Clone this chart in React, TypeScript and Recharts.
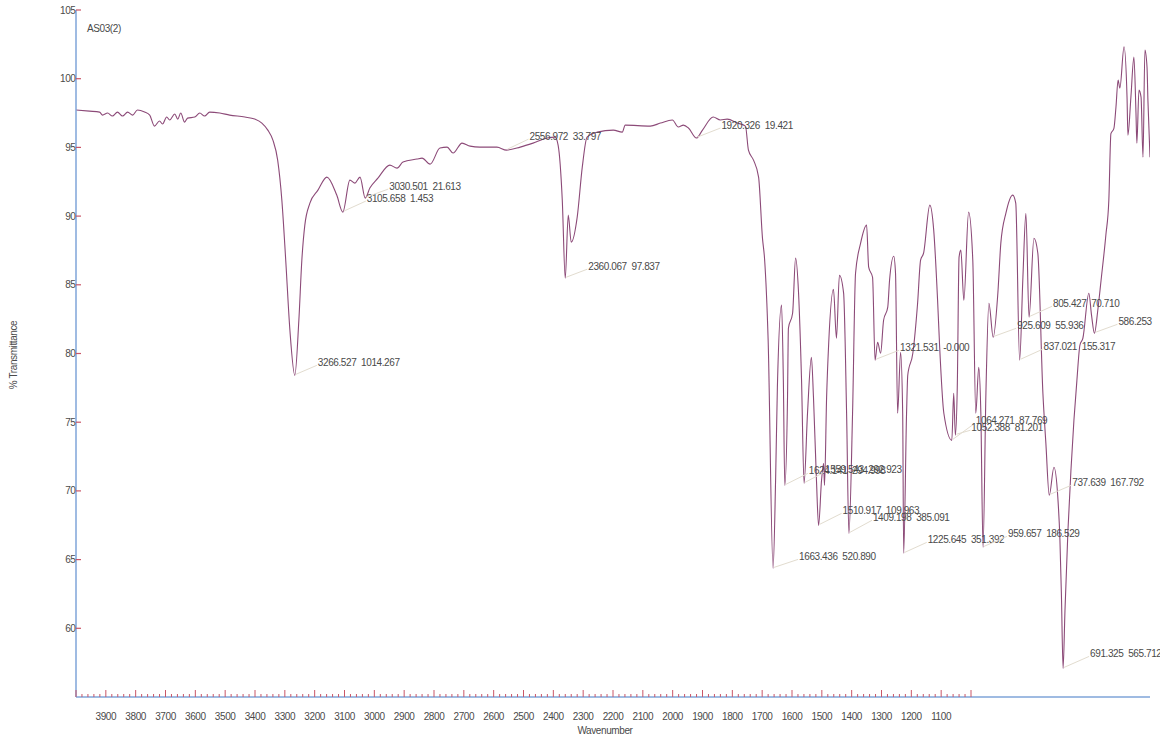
import React from 'react';
import { LineChart, Line, XAxis, YAxis, ReferenceDot } from 'recharts';

// IR spectrum of sample AS03(2): [wavenumber (cm-1), % transmittance]
const spectrum: [number, number][] = [
  [4000, 97.72], [3955, 97.64], [3921, 97.57], [3911, 97.35], [3894, 97.5], [3878, 97.28],
  [3861, 97.57], [3844, 97.28], [3827, 97.57], [3810, 97.35], [3794, 97.72], [3770, 97.57],
  [3753, 97.35], [3737, 96.55], [3720, 96.92], [3710, 96.7], [3696, 97.21], [3686, 96.99],
  [3669, 97.43], [3659, 97.06], [3649, 97.5], [3636, 96.84], [3626, 97.13], [3602, 97.21],
  [3585, 97.5], [3569, 97.28], [3552, 97.57], [3518, 97.5], [3485, 97.35], [3434, 97.21],
  [3401, 97.06], [3377, 96.77], [3357, 96.26], [3340, 95.53], [3324, 94.07], [3310, 91.16],
  [3297, 86.79], [3283, 81.69], [3266.527, 78.41], [3253, 82.42], [3243, 86.79], [3233, 89.34],
  [3216, 90.94], [3189, 91.89], [3159, 92.84], [3126, 91.53], [3105.658, 90.29], [3082, 92.62],
  [3065, 92.4], [3048, 92.84], [3030.501, 91.31], [3015, 92.04], [2988, 92.76], [2948, 93.71],
  [2924, 93.49], [2904, 93.93], [2857, 94.15], [2840, 94.22], [2813, 93.78], [2780, 94.95],
  [2756, 95.02], [2736, 94.59], [2706, 95.31], [2679, 95.09], [2646, 95.02], [2622, 95.02],
  [2589, 95.02], [2556.972, 94.8], [2511, 95.02], [2468, 95.31], [2421, 95.68], [2394, 95.75],
  [2384, 95.17], [2370, 91.16], [2360.067, 85.48], [2350, 90.07], [2340, 88.1], [2320, 89.92],
  [2303, 93.56], [2287, 95.75], [2253, 96.11], [2199, 96.26], [2169, 96.11], [2159, 96.62],
  [2075, 96.55], [2041, 96.77], [2001, 96.99], [1981, 96.48], [1964, 96.62], [1947, 96.41],
  [1920.326, 95.68], [1900, 96.26], [1864, 97.21], [1840, 96.99], [1817, 97.06], [1783, 96.77],
  [1756, 96.55], [1746, 94.8], [1729, 94.07], [1712, 92.84], [1699, 88.4], [1692, 86.9],
  [1680, 81.0], [1663.436, 64.36], [1655, 70.77], [1649, 77.54], [1635, 83.52], [1629, 78.05],
  [1624.141, 70.4], [1615, 76.81], [1612, 81.84], [1598, 82.93], [1588, 86.94], [1578, 84.39],
  [1568, 78.05], [1559.543, 70.55], [1548, 75.65], [1535, 79.73], [1528, 76.81], [1518, 70.77],
  [1510.917, 67.49], [1501, 70.77], [1494, 72.0], [1491, 70.4], [1484, 76.81], [1477, 80.75],
  [1461, 84.68], [1451, 81.11], [1441, 85.7], [1427, 84.39], [1417, 75.65], [1409.198, 66.91],
  [1397, 75.65], [1387, 85.84], [1370, 88.03], [1350, 89.34], [1343, 86.28], [1330, 85.55],
  [1321.531, 79.51], [1313, 80.82], [1303, 80.02], [1293, 82.42], [1279, 83.37], [1273, 85.33],
  [1259, 87.08], [1253, 85.84], [1246, 75.65], [1236, 80.09], [1229, 75.65], [1225.645, 65.45],
  [1216, 75.65], [1212, 78.42], [1195, 80.02], [1179, 83.66], [1169, 86.79], [1159, 87.3],
  [1138, 90.8], [1125, 88.98], [1112, 83.88], [1105, 80.46], [1091, 75.65], [1064.271, 73.68],
  [1058, 77.1], [1052.388, 74.05], [1046, 77.54], [1040, 87.01], [1034, 87.52], [1024, 83.88],
  [1008, 90.29], [994, 86.79], [984, 75.65], [974, 78.99], [967, 75.65], [959.657, 65.89],
  [950, 77.1], [940, 83.66], [925.609, 81.18], [910, 84.39], [900, 88.03], [883, 90.21],
  [860, 91.53], [850, 90.94], [837.021, 79.51], [826, 85.55], [816, 90.21], [805.427, 82.64],
  [789, 88.39], [776, 87.3], [759, 77.1], [749, 73.46], [737.639, 69.68], [722, 71.72],
  [709, 69.53], [702, 66.5], [697, 62.5], [691.325, 57.08], [685, 61.3], [675, 67.13],
  [665, 71.5], [655, 75.14], [645, 78.05], [635, 80.6], [625, 81.11], [605, 84.39],
  [596, 82.79], [586.253, 81.47], [575, 83.15], [564, 85.33], [548, 88.61], [538, 91.16],
  [531, 96.0], [521, 96.38], [514, 97.96], [507, 99.9], [501, 99.32], [487, 102.33],
  [477, 98.66], [474, 95.89], [464, 98.66], [454, 101.58], [447, 97.5], [444, 95.31],
  [437, 99.17], [430, 98.66], [423.5, 94.29], [417, 102.09], [410, 100.85], [407, 98.44],
  [400, 94.29],
];

// Picked peaks: position and the second figure printed beside it
const peakWavenumbers = [
  3266.527, 3105.658, 3030.501, 2556.972, 2360.067, 1920.326, 1663.436, 1624.141, 1559.543,
  1510.917, 1409.198, 1321.531, 1225.645, 1064.271, 1052.388, 959.657, 925.609, 837.021,
  805.427, 737.639, 691.325, 586.253,
];
const peakFigures = [
  '1014.267', '1.453', '21.613', '33.797', '97.837', '19.421', '520.890', '294.998', '292.923',
  '109.963', '385.091', '-0.000', '351.392', '87.769', '81.201', '186.529', '55.936', '155.317',
  '70.710', '167.792', '565.712', '',
];
// Pixel offset of each peak label from its peak
const labelOffsets: [number, number][] = [
  [23, -13], [24, -14], [24, -12], [23, -14], [23, -12], [25, -13], [26, -12], [24, -15],
  [21, -14], [24, -15], [24, -16], [25, -13], [24, -14], [24, -20], [16, -8], [25, -14],
  [24, -12], [24, -14], [24, -14], [23, -13], [27, -15], [24, -12],
];

const yTicks = [60, 65, 70, 75, 80, 85, 90, 95, 100, 105];
const xTicks: number[] = [];
for (let w = 4000; w >= 1000; w -= 20) xTicks.push(w);
const xLabelRange = [1100, 3900];

const data = spectrum.map(([wn, t]) => ({ wn, t }));
const tAt = (wn: number) => {
  const p = spectrum.find((s) => s[0] === wn);
  return p ? p[1] : 0;
};

const FRAME = '#7fa4d8';
const TICK = '#c95668';
const TEXT = '#4a4a4a';
const FONT = '"Liberation Sans", Arial, sans-serif';

const XTick = (props: any) => {
  const { x, y, payload } = props;
  const v = payload.value as number;
  const major = v % 100 === 0;
  const labelled = major && v >= xLabelRange[0] && v <= xLabelRange[1];
  return (
    <g>
      <line x1={x} x2={x} y1={y} y2={y - (major ? 7 : 3)} stroke={TICK} strokeWidth={1} />
      {labelled && (
        <text
          x={x}
          y={y + 19}
          textAnchor="middle"
          dominantBaseline="central"
          fontSize={10}
          fontFamily={FONT}
          fill={TEXT}
          style={{ letterSpacing: -0.4 }}
        >
          {v}
        </text>
      )}
    </g>
  );
};

const YTick = (props: any) => {
  const { x, y, payload } = props;
  return (
    <g>
      <line x1={x} x2={x + 5} y1={y} y2={y} stroke={TICK} strokeWidth={1.2} />
      <text
        x={x - 0.5}
        y={y}
        textAnchor="end"
        dominantBaseline="central"
        fontSize={10}
        fontFamily={FONT}
        fill={TEXT}
        style={{ letterSpacing: -0.4 }}
      >
        {payload.value}
      </text>
    </g>
  );
};

const peakLabel = (text: string, dx: number, dy: number) => (props: any) => {
  const { cx, cy } = props;
  return (
    <g>
      <line x1={cx + 1} y1={cy - 1} x2={cx + dx - 1} y2={cy + dy + 3} stroke="#e2dccf" strokeWidth={1} />
      <text
        x={cx + dx}
        y={cy + dy}
        dominantBaseline="central"
        fontSize={10}
        fontFamily={FONT}
        fill={TEXT}
        style={{ letterSpacing: -0.4, whiteSpace: 'pre' }}
      >
        {text}
      </text>
    </g>
  );
};

const textStyle: React.CSSProperties = {
  position: 'absolute',
  fontFamily: FONT,
  fontSize: 10,
  color: TEXT,
  letterSpacing: -0.4,
  whiteSpace: 'nowrap',
  lineHeight: '12px',
};

export default function App() {
  return (
    <div style={{ position: 'absolute', left: 0, top: 0, width: 1160, height: 740, background: '#fff', overflow: 'hidden' }}>
      <LineChart width={1160} height={740} data={data} margin={{ top: 10, right: 10, bottom: 0, left: 0 }}>
        <XAxis
          dataKey="wn"
          type="number"
          domain={[400, 4000]}
          reversed
          ticks={xTicks}
          interval={0}
          tick={<XTick />}
          tickLine={false}
          tickSize={0}
          tickMargin={0}
          height={43}
          axisLine={{ stroke: FRAME, strokeWidth: 1.5 }}
          allowDataOverflow
        />
        <XAxis
          xAxisId="top"
          orientation="top"
          dataKey="wn"
          type="number"
          domain={[400, 4000]}
          reversed
          height={0}
          tick={false}
          tickLine={false}
          axisLine={{ stroke: FRAME, strokeWidth: 1.5 }}
        />
        <YAxis
          type="number"
          domain={[55, 105]}
          ticks={yTicks}
          interval={0}
          tick={<YTick />}
          tickLine={false}
          tickSize={0}
          tickMargin={0}
          width={76}
          axisLine={{ stroke: FRAME, strokeWidth: 1.5 }}
          allowDataOverflow
        />
        <YAxis
          yAxisId="right"
          orientation="right"
          type="number"
          domain={[55, 105]}
          width={0}
          tick={false}
          tickLine={false}
          axisLine={{ stroke: FRAME, strokeWidth: 1.5 }}
        />
        <Line
          type="monotone"
          dataKey="t"
          stroke="#8c4a78"
          strokeWidth={1.1}
          dot={false}
          activeDot={false}
          isAnimationActive={false}
        />
        {peakWavenumbers.map((wn, i) => (
          <ReferenceDot
            key={wn}
            x={wn}
            y={tAt(wn)}
            r={1}
            ifOverflow="visible"
            shape={peakLabel(
              peakFigures[i] ? `${wn.toFixed(3)}  ${peakFigures[i]}` : wn.toFixed(3),
              labelOffsets[i][0],
              labelOffsets[i][1]
            )}
          />
        ))}
      </LineChart>
      <div style={{ ...textStyle, left: 87, top: 23 }}>AS03(2)</div>
      <div style={{ ...textStyle, left: 605, top: 725, transform: 'translateX(-50%)' }}>Wavenumber</div>
      <div
        style={{
          ...textStyle,
          left: 14,
          top: 355,
          transform: 'translate(-50%, -50%) rotate(-90deg)',
        }}
      >
        % Transmittance
      </div>
    </div>
  );
}
